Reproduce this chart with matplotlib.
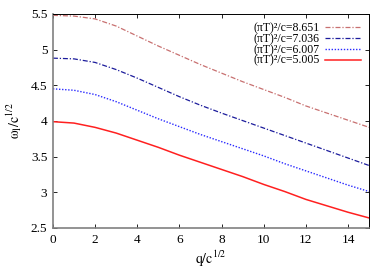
import matplotlib
matplotlib.use('Agg')
import matplotlib.pyplot as plt
import numpy as np

# values at q/c^(1/2) = 0, 1, ..., 15
q = np.arange(0, 16)
w_8651 = [5.48, 5.47, 5.43, 5.33, 5.19, 5.05, 4.92, 4.79, 4.67, 4.55, 4.44, 4.33, 4.21, 4.11, 4.01, 3.91]
w_7036 = [4.88, 4.87, 4.82, 4.72, 4.60, 4.47, 4.34, 4.22, 4.11, 4.005, 3.90, 3.795, 3.69, 3.585, 3.48, 3.375]
w_6007 = [4.45, 4.43, 4.37, 4.27, 4.15, 4.03, 3.92, 3.81, 3.71, 3.61, 3.51, 3.40, 3.30, 3.20, 3.10, 3.01]
w_5005 = [3.99, 3.97, 3.91, 3.83, 3.73, 3.63, 3.52, 3.42, 3.32, 3.22, 3.11, 3.01, 2.90, 2.81, 2.72, 2.64]
labels = ['(πT)²/c=8.651', '(πT)²/c=7.036', '(πT)²/c=6.007', '(πT)²/c=5.005']

plt.rcParams['font.family'] = ['Liberation Serif', 'DejaVu Serif']
plt.rcParams['mathtext.fontset'] = 'stix'
plt.rcParams['font.size'] = 9.5

fig = plt.figure(figsize=(3.89, 2.73), dpi=100)
ax = fig.add_axes([0.136, 0.165, 0.813, 0.784])

ax.plot(q, w_8651, color='#c87070', lw=0.9, dashes=(4, 1.5, 1, 1.5), label=labels[0])
ax.plot(q, w_7036, color='#1c1c9c', lw=0.9, dashes=(4, 1.5, 1, 1.5), label=labels[1])
ax.plot(q, w_6007, color='#2a2aff', lw=1.0, dashes=(1, 1.2), label=labels[2])
ax.plot(q, w_5005, color='#ff2020', lw=1.1, label=labels[3])

ax.set_xlim(0, 15)
ax.set_ylim(2.5, 5.5)
ax.set_xticks(range(0, 15, 2))
ax.set_yticks([2.5, 3, 3.5, 4, 4.5, 5, 5.5])
ax.set_yticklabels(['2.5', '3', '3.5', '4', '4.5', '5', '5.5'])
ax.tick_params(direction='in', top=True, right=True, length=3, width=0.6, pad=4)
for s in ['left', 'bottom']:
    ax.spines[s].set_color('#808080')
    ax.spines[s].set_linewidth(1.2)
for s in ['top', 'right']:
    ax.spines[s].set_linewidth(0.7)

ax.set_xlabel(r'$\mathrm{q/c^{1/2}}$', fontsize=10, labelpad=2)
ax.set_ylabel(r'$\mathrm{\omega_l/c^{1/2}}$', fontsize=10, labelpad=5)

ax.legend(loc='upper right', frameon=False, markerfirst=False, handlelength=3.0,
          labelspacing=-0.1, handletextpad=0.5, borderaxespad=0.3, fontsize=8.5)

fig.savefig('out.png', dpi=100)
